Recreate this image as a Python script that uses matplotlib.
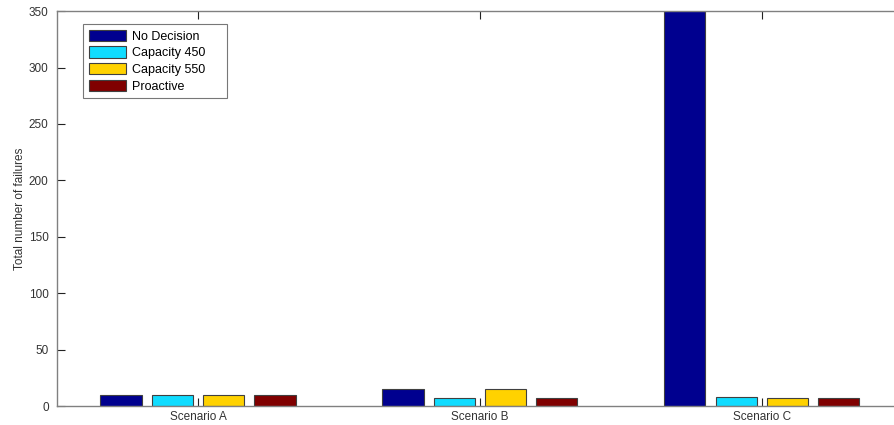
import numpy as np
import matplotlib
matplotlib.use('Agg')
import matplotlib.pyplot as plt

plt.rcParams['font.family'] = ['Liberation Sans', 'DejaVu Sans']

# --- Datos ---
scenarios = ['Scenario A', 'Scenario B', 'Scenario C']
series = ['No Decision', 'Capacity 450', 'Capacity 550', 'Proactive']
no_decision = [10, 15.5, 420]
capacity_450 = [10, 7, 8]
capacity_550 = [10, 15.5, 7]
proactive = [10, 7, 7]
colors = ['#00008f', '#10dcff', '#ffd200', '#800000']

values = [no_decision, capacity_450, capacity_550, proactive]

# --- Figura ---
fig = plt.figure(figsize=(8.95, 4.25), dpi=100)
ax = fig.add_axes([0.0637, 0.0447, 0.945, 0.929])

x = np.arange(1, len(scenarios) + 1)
step = 0.182
width = 0.146
for i, (vals, name) in enumerate(zip(values, series)):
    ax.bar(x + (i - 1.5) * step, vals, width, color=colors[i], label=name,
           edgecolor='#404040', linewidth=0.8)

ax.set_xlim(0.5, 3.5)
ax.set_ylim(0, 350)
ax.set_yticks(np.arange(0, 351, 50))
ax.set_xticks(x)
ax.set_xticklabels(scenarios)
ax.tick_params(direction='in', length=6, labelsize=8.5, labelcolor='#333333',
               top=True, right=False, width=0.8, color='#222222')
ax.tick_params(axis='y', pad=6)
ax.spines['right'].set_visible(False)
for s in ax.spines.values():
    s.set_color('#808080')
    s.set_linewidth(1)

ax.set_ylabel('Total number of failures', fontsize=8.5, color='#333333', labelpad=2)

# Leyenda (caja ancha como en MATLAB)
leg_h = 0.19
leg = ax.legend(loc='upper left', bbox_to_anchor=(0.0307, 0.967 - leg_h, 0.170, leg_h),
                mode='expand', fontsize=9,
                frameon=True, fancybox=False, handlelength=3.0, handleheight=1.0,
                handletextpad=0.45, labelspacing=0.3, borderpad=0.45,
                borderaxespad=0.0)
leg.get_frame().set_edgecolor('#555555')
leg.get_frame().set_linewidth(0.8)

fig.savefig('out.png', dpi=100)
